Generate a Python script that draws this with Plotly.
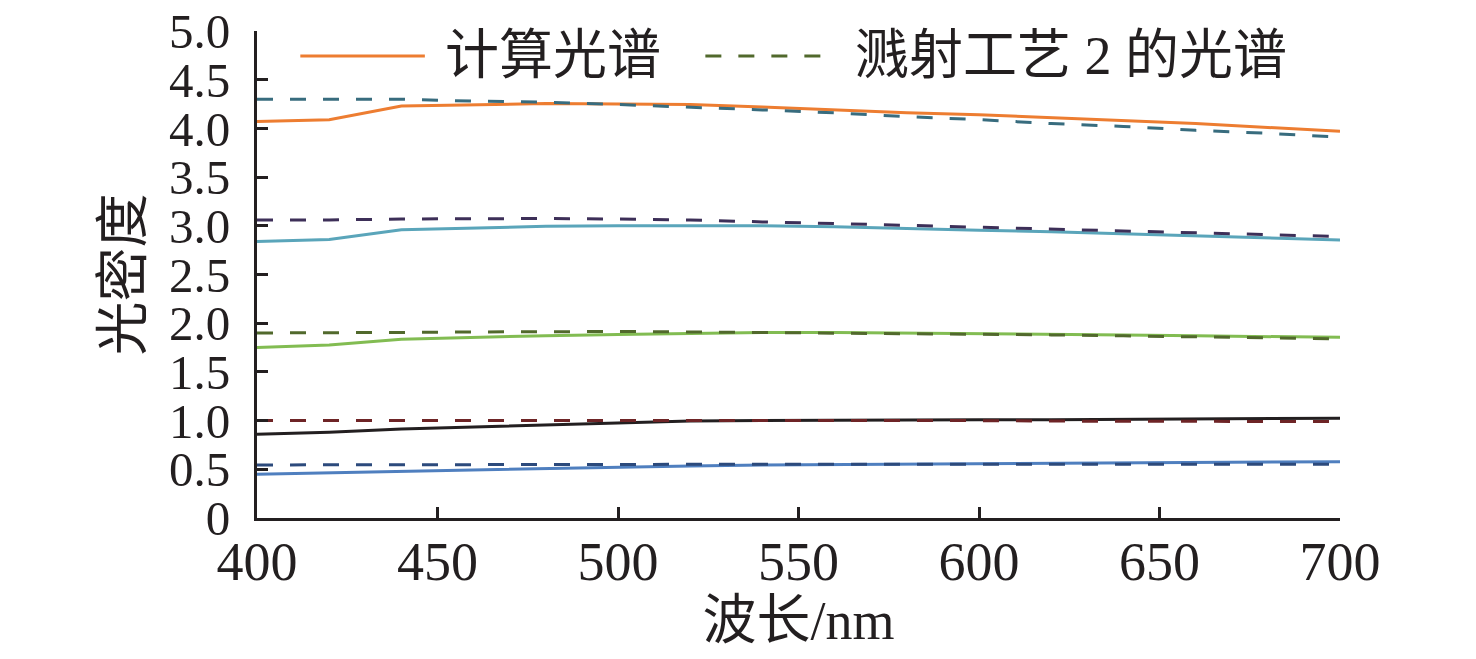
import plotly.graph_objects as go

# comprimentos de onda (nm)
wavelength = [400, 420, 440, 460, 480, 500, 520, 540, 560, 580, 600, 620, 640, 660, 680, 700]

# espectros calculados (linhas sólidas)
calc_1 = [4.07, 4.09, 4.23, 4.245, 4.255, 4.25, 4.245, 4.22, 4.19, 4.16, 4.14, 4.11, 4.08, 4.05, 4.01, 3.97]
calc_2 = [2.84, 2.86, 2.96, 2.98, 2.995, 3.0, 3.0, 3.0, 2.99, 2.97, 2.955, 2.94, 2.92, 2.90, 2.88, 2.855]
calc_3 = [1.75, 1.775, 1.835, 1.855, 1.872, 1.885, 1.895, 1.905, 1.905, 1.90, 1.895, 1.885, 1.88, 1.87, 1.865, 1.855]
calc_4 = [0.86, 0.88, 0.915, 0.935, 0.955, 0.975, 0.995, 1.0, 1.005, 1.005, 1.01, 1.01, 1.015, 1.02, 1.02, 1.025]
calc_5 = [0.45, 0.465, 0.48, 0.49, 0.505, 0.52, 0.535, 0.545, 0.55, 0.555, 0.56, 0.565, 0.568, 0.57, 0.575, 0.578]

# espectros do processo 2 (linhas tracejadas)
proc_1 = [4.30, 4.30, 4.30, 4.28, 4.27, 4.245, 4.22, 4.19, 4.16, 4.12, 4.09, 4.05, 4.02, 3.98, 3.95, 3.91]
proc_2 = [3.06, 3.06, 3.07, 3.075, 3.075, 3.07, 3.06, 3.04, 3.025, 3.005, 2.985, 2.965, 2.95, 2.93, 2.91, 2.89]
proc_3 = [1.90, 1.90, 1.905, 1.91, 1.915, 1.915, 1.91, 1.905, 1.90, 1.895, 1.89, 1.88, 1.87, 1.86, 1.85, 1.84]
proc_4 = [1.00, 1.00, 1.00, 1.005, 1.005, 1.005, 1.005, 1.005, 1.005, 1.0, 1.0, 0.995, 0.995, 0.99, 0.99, 0.99]
proc_5 = [0.545, 0.545, 0.546, 0.547, 0.547, 0.548, 0.55, 0.552, 0.553, 0.553, 0.553, 0.553, 0.553, 0.553, 0.553, 0.553]

calc_cores = ['#ED7D31', '#5AA5BA', '#82BC52', '#231F20', '#4F7FBF']
proc_cores = ['#386C7E', '#3D2F58', '#51692C', '#6E2426', '#2C4A7C']

y_ticks = [0, 0.5, 1.0, 1.5, 2.0, 2.5, 3.0, 3.5, 4.0, 4.5, 5.0]
y_labels = ['0', '0.5', '1.0', '1.5', '2.0', '2.5', '3.0', '3.5', '4.0', '4.5', '5.0']
x_ticks = [400, 450, 500, 550, 600, 650, 700]

nome_calc = '计算光谱'
nome_proc = '溅射工艺 2 的光谱'

traco = '16px,17px'
fonte = 'Liberation Serif, Times New Roman, Noto Sans CJK SC'
preto = '#231F20'

fig = go.Figure()

# linhas sólidas
for i, serie in enumerate([calc_1, calc_2, calc_3, calc_4, calc_5]):
    fig.add_trace(go.Scatter(x=wavelength, y=serie, mode='lines', name=nome_calc,
                             line=dict(color=calc_cores[i], width=3), showlegend=False))

# linhas tracejadas
for i, serie in enumerate([proc_1, proc_2, proc_3, proc_4, proc_5]):
    fig.add_trace(go.Scatter(x=wavelength, y=serie, mode='lines', name=nome_proc,
                             line=dict(color=proc_cores[i], width=3, dash=traco), showlegend=False))

# legenda feita à mão (linhas compridas como no original)
ly = 0.9487
fig.add_shape(type='line', xref='paper', yref='paper', x0=0.040, x1=0.155, y0=ly, y1=ly,
              line=dict(color=calc_cores[0], width=3))
fig.add_shape(type='line', xref='paper', yref='paper', x0=0.414, x1=0.529, y0=ly, y1=ly,
              line=dict(color=proc_cores[2], width=3, dash=traco))
fig.add_annotation(xref='paper', yref='paper', x=0.172, y=ly, text=nome_calc, showarrow=False,
                   xanchor='left', yanchor='middle', font=dict(size=54))
fig.add_annotation(xref='paper', yref='paper', x=0.550, y=ly, text=nome_proc, showarrow=False,
                   xanchor='left', yanchor='middle', font=dict(size=54))

# a página tem 8px de margem no body: a figura fica em 1460x643
fig.update_layout(
    width=1460, height=643,
    margin=dict(l=249, r=128, t=23, b=133),
    plot_bgcolor='white', paper_bgcolor='white',
    font=dict(family=fonte, size=54, color=preto),
    showlegend=False,
    xaxis=dict(range=[400, 700], tickvals=x_ticks, automargin=False,
               showline=True, linecolor=preto, linewidth=3,
               ticks='inside', ticklen=11, tickwidth=3, tickcolor=preto,
               ticklabelstandoff=-6, ticklabeloverflow='allow',
               showgrid=False, zeroline=False,
               title=dict(text='波长/nm', font=dict(size=54), standoff=10)),
    yaxis=dict(range=[0, 5], tickvals=y_ticks, ticktext=y_labels, automargin=False,
               showline=True, linecolor=preto, linewidth=3,
               ticks='inside', ticklen=11, tickwidth=3, tickcolor=preto,
               ticklabelstandoff=14, tickfont=dict(size=49), ticklabeloverflow='allow',
               showgrid=False, zeroline=False,
               title=dict(text='光密度', font=dict(size=54), standoff=10)),
)

fig.write_html("out.html")
